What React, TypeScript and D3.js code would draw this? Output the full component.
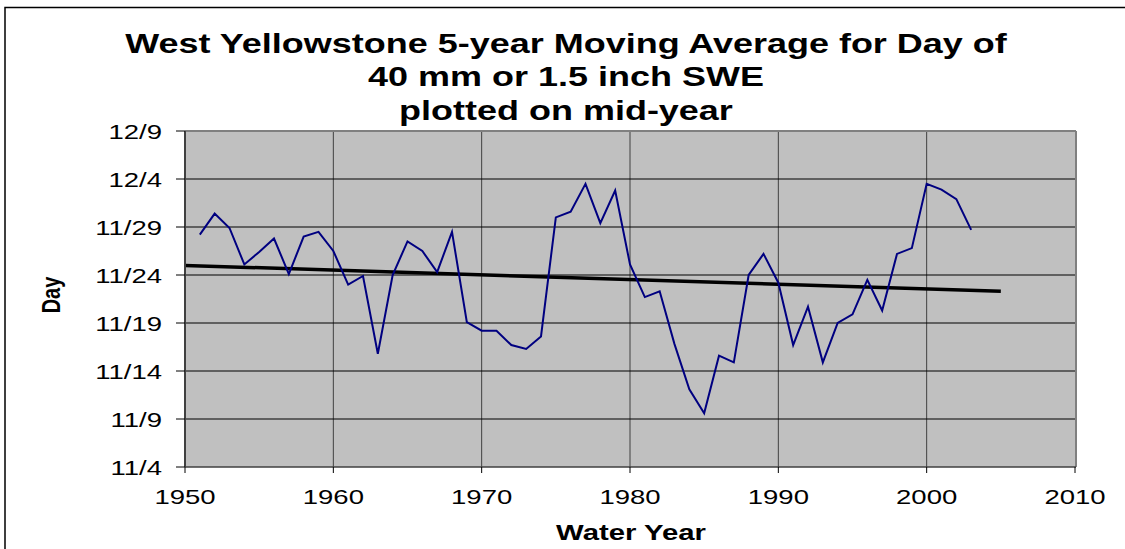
import React from "react";
import * as d3 from "d3";

// Water year (mid-year) and day of 40 mm SWE, as day number counted in November (31 = 12/1)
const years = [
  1951, 1952, 1953, 1954, 1955, 1956, 1957, 1958, 1959, 1960,
  1961, 1962, 1963, 1964, 1965, 1966, 1967, 1968, 1969, 1970,
  1971, 1972, 1973, 1974, 1975, 1976, 1977, 1978, 1979, 1980,
  1981, 1982, 1983, 1984, 1985, 1986, 1987, 1988, 1989, 1990,
  1991, 1992, 1993, 1994, 1995, 1996, 1997, 1998, 1999, 2000,
  2001, 2002, 2003,
];
const dayValues = [
  28.2, 30.4, 28.9, 25.1, 26.4, 27.8, 24.1, 28.0, 28.5, 26.5,
  23.0, 23.9, 15.8, 24.0, 27.5, 26.5, 24.3, 28.5, 19.1, 18.2,
  18.2, 16.7, 16.3, 17.6, 30.0, 30.6, 33.5, 29.4, 32.8, 25.1,
  21.7, 22.3, 16.8, 12.1, 9.6, 15.6, 14.9, 24.0, 26.2, 23.2,
  16.7, 20.7, 14.9, 19.0, 19.9, 23.5, 20.3, 26.2, 26.8, 33.5,
  32.9, 31.9, 28.7,
];
const trendYears = [1950, 2005];
const trendValues = [25.0, 22.3];

const yTicks = [4, 9, 14, 19, 24, 29, 34, 39];
const xTicks = [1950, 1960, 1970, 1980, 1990, 2000, 2010];
const titleLines = [
  "West Yellowstone 5-year Moving Average for Day of",
  "40 mm or 1.5 inch SWE",
  "plotted on mid-year",
];
const xTitle = "Water Year";
const yTitle = "Day";

const W = 1125;
const H = 549;
const L = 185, R = 1075, T = 131, B = 467;
const SX = 1.31; // horizontal stretch of the reference image
const FONT = "'Liberation Sans', Arial, sans-serif";

const fmtDay = (d: number) => (d > 30 ? `12/${d - 30}` : `11/${d}`);

export default function App() {
  const x = d3.scaleLinear().domain([1950, 2010]).range([L, R]);
  const y = d3.scaleLinear().domain([4, 39]).range([B, T]);

  const pts: [number, number][] = years.map((yr, i) => [yr, dayValues[i]]);
  const line = d3
    .line<[number, number]>()
    .x((p) => x(p[0]))
    .y((p) => y(p[1]));
  const trendPts: [number, number][] = trendYears.map((yr, i) => [yr, trendValues[i]]);

  return (
    <div style={{ position: "absolute", left: 0, top: 0 }}>
      <svg width={W} height={H} style={{ display: "block", background: "#fff" }}>
        {/* outer frame */}
        <rect x={5} y={7.5} width={W + 10} height={H + 10} fill="none" stroke="#000" strokeWidth={1.5} />

        {/* plot area */}
        <rect x={L} y={T} width={R - L} height={B - T} fill="#C0C0C0" />
        {/* vertical gridlines */}
        {xTicks.slice(1, -1).map((t) => (
          <line key={"vg" + t} x1={x(t)} x2={x(t)} y1={T} y2={B} stroke="#404040" strokeWidth={1} />
        ))}
        {/* horizontal gridlines */}
        {yTicks.slice(1, -1).map((t) => (
          <line key={"hg" + t} x1={L} x2={R} y1={y(t)} y2={y(t)} stroke="#000" strokeWidth={1} />
        ))}
        {/* plot border top/right */}
        <line x1={L} x2={R + 1} y1={T} y2={T} stroke="#808080" strokeWidth={2} />
        <line x1={R + 1} x2={R + 1} y1={T} y2={B} stroke="#808080" strokeWidth={2} />

        {/* trend */}
        <path d={line(trendPts) || ""} fill="none" stroke="#000" strokeWidth={3.5} />
        {/* series */}
        <path d={line(pts) || ""} fill="none" stroke="#000080" strokeWidth={2} strokeLinejoin="miter" />

        {/* axes */}
        <line x1={L} x2={L} y1={T} y2={B} stroke="#404040" strokeWidth={2} />
        <line x1={L} x2={R + 1} y1={B} y2={B} stroke="#404040" strokeWidth={1.5} />
        {yTicks.map((t) => (
          <g key={"yt" + t}>
            <line x1={L - 9} x2={L} y1={y(t)} y2={y(t)} stroke="#000" strokeWidth={1} />
            <text
              transform={`translate(${L - 23},${y(t) + 7.5}) scale(${SX},1)`}
              textAnchor="end"
              fontFamily={FONT}
              fontSize={21}
              fill="#000"
            >
              {fmtDay(t)}
            </text>
          </g>
        ))}
        {xTicks.map((t) => (
          <g key={"xt" + t}>
            <line x1={x(t)} x2={x(t)} y1={B} y2={B + 6} stroke="#000" strokeWidth={1} />
            <text
              transform={`translate(${x(t)},${B + 37}) scale(${SX},1)`}
              textAnchor="middle"
              fontFamily={FONT}
              fontSize={21}
              fill="#000"
            >
              {t}
            </text>
          </g>
        ))}

        {/* titles */}
        {titleLines.map((s, i) => (
          <text
            key={"tl" + i}
            transform={`translate(566,${52.7 + i * 33.7}) scale(1.333,1)`}
            textAnchor="middle"
            fontFamily={FONT}
            fontWeight="bold"
            fontSize={27}
            fill="#000"
          >
            {s}
          </text>
        ))}
        <text
          transform={`translate(631,540) scale(1.333,1)`}
          textAnchor="middle"
          fontFamily={FONT}
          fontWeight="bold"
          fontSize={22}
          fill="#000"
        >
          {xTitle}
        </text>
        <text
          transform={`translate(60,295) rotate(-90) scale(1,1.333)`}
          textAnchor="middle"
          fontFamily={FONT}
          fontWeight="bold"
          fontSize={20}
          fill="#000"
        >
          {yTitle}
        </text>
      </svg>
    </div>
  );
}
